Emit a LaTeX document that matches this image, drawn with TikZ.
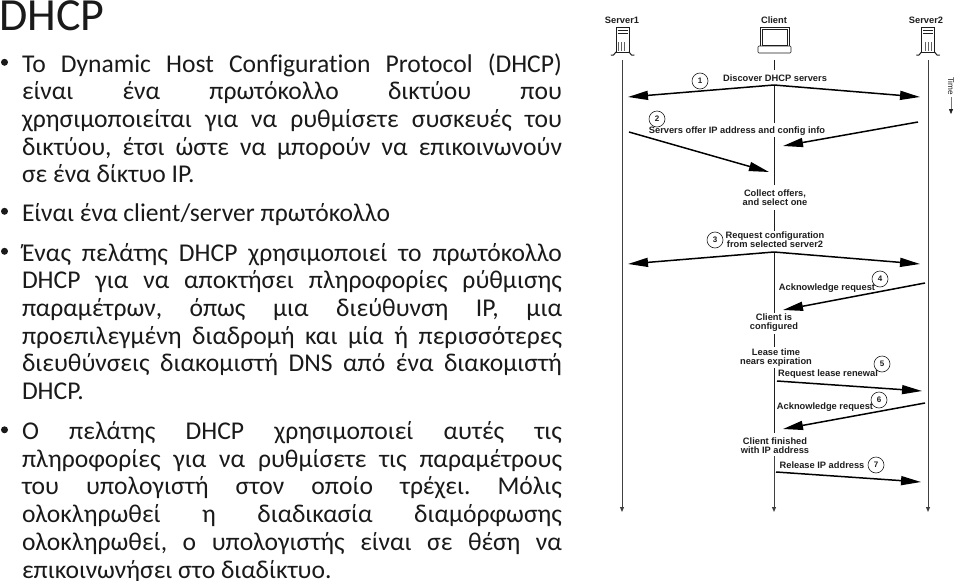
\documentclass[tikz,border=0pt]{standalone}
\usepackage{fontspec}
\setmainfont[Ligatures=NoCommon]{Carlito}
\newfontfamily\labfont{Liberation Sans}
\usetikzlibrary{arrows.meta}
\definecolor{ink}{HTML}{1E1E1E}
\definecolor{bodyink}{HTML}{1A1A1A}
\newcommand{\firstline}{\rule{0pt}{20pt}}
\frenchspacing
\tikzset{
  para/.style={anchor=north west,inner sep=0pt,outer sep=0pt,text width=540pt,align=justify,text=bodyink,
    font=\fontsize{25.6}{27.7}\selectfont},
  bul/.style={circle,fill=bodyink,inner sep=0pt,minimum size=7pt},
  lab/.style={inner sep=0pt,align=center,text=ink,font=\labfont\bfseries\fontsize{9.3}{8.9}\selectfont},
  num/.style={circle,draw=ink,line width=.6pt,fill=white,inner sep=0pt,minimum size=16pt,text=ink,font=\labfont\bfseries\fontsize{8}{8}\selectfont},
  life/.style={draw=ink!85,line width=1pt,-{Triangle[length=5pt,width=4pt]}},
  seg/.style={draw=ink,line width=1pt},
  msg/.style={draw=black,line width=1.5pt,-{Triangle[length=20pt,width=9pt]}},
  srv/.pic={
    \draw[ink,line width=.6pt,fill=white] (-6.5,-14.5) rectangle (6.5,11);
    \draw[ink,line width=.5pt] (-5,-11.5) -- (5,-11.5) (-5,-8.5) -- (5,-8.5);
    \fill[ink!70] (-4.5,0.5) rectangle (4.5,9.5);
    \foreach \i in {-3.5,-2,...,4}{\draw[white,line width=.4pt] (\i,0.5) -- (\i,9.5);}
    \draw[ink,line width=1pt,line cap=round] (-11.5,13.5) -- (-9,13.5) -- (-6.5,10.5) (6.5,10.5) -- (9,13.5) -- (11.5,13.5);
  }
}
\begin{document}
\begin{tikzpicture}[x=1pt,y=-1pt]
\useasboundingbox (0,0) rectangle (959,581);
\clip (0,0) rectangle (959,581);
\fill[white] (0,0) rectangle (959,581);
% text column
\node[anchor=base west,inner sep=0pt,text=bodyink,font=\fontsize{46}{46}\selectfont] (title) at (-1,30) {DHCP};
\node[para] (p1) at (22,52) {\firstline Το Dynamic Host Configuration Protocol (DHCP)\linebreak είναι ένα πρωτόκολλο δικτύου που\linebreak χρησιμοποιείται για να ρυθμίσετε συσκευές του\linebreak δικτύου, έτσι ώστε να μπορούν να επικοινωνούν\linebreak σε ένα δίκτυο IP.};
\node[para] (p2) at (22,201) {\firstline Είναι ένα client/server πρωτόκολλο};
\node[para] (p3) at (22,241) {\firstline Ένας πελάτης DHCP χρησιμοποιεί το πρωτόκολλο\linebreak DHCP για να αποκτήσει πληροφορίες ρύθμισης\linebreak παραμέτρων, όπως μια διεύθυνση IP, μια\linebreak προεπιλεγμένη διαδρομή και μία ή περισσότερες\linebreak διευθύνσεις διακομιστή DNS από ένα διακομιστή\linebreak DHCP.};
\node[para] (p4) at (22,419.5) {\firstline Ο πελάτης DHCP χρησιμοποιεί αυτές τις\linebreak πληροφορίες για να ρυθμίσετε τις παραμέτρους\linebreak του υπολογιστή στον οποίο τρέχει. Μόλις\linebreak ολοκληρωθεί η διαδικασία διαμόρφωσης\linebreak ολοκληρωθεί, ο υπολογιστής είναι σε θέση να\linebreak επικοινωνήσει στο διαδίκτυο.};
\node[bul] (b1) at (4.5,62.3) {};
\node[bul] (b2) at (4.5,211.3) {};
\node[bul] (b3) at (4.5,251.3) {};
\node[bul] (b4) at (4.5,429.8) {};
% heads
\node[lab,anchor=base] (s1) at (622,23) {Server1};
\node[lab,anchor=base] (cl) at (774,23) {Client};
\node[lab,anchor=base] (s2) at (926,23) {Server2};
\pic at (622.5,41.5) {srv};
\pic at (928,41.5) {srv};
\draw[ink,line width=.6pt,fill=white] (760,27.5) rectangle (789,46);
\draw[ink,line width=.5pt] (762,29.5) rectangle (787,45);
\draw[ink,line width=.6pt,fill=white,rounded corners=1pt] (758,46) rectangle (791,53);
% lifeline coordinates
\coordinate (a1) at (622,60); \coordinate (a2) at (622,512);
\coordinate (c2) at (928,60); \coordinate (c3) at (928,512);
\draw[life] (a1) -- (a2);
\draw[life] (c2) -- (c3);
% labels
\node[lab] (l1) at (775,78) {Discover DHCP servers};
\node[lab] (l2) at (737,131) {Servers offer IP address and config info};
\node[lab] (l3) at (775,197.5) {Collect offers,\\and select one};
\node[lab] (l4) at (775,240) {Request configuration\\from selected server2};
\node[lab] (l5) at (827,288) {Acknowledge request};
\node[lab] (l6) at (774,323) {Client is\\configured};
\node[lab] (l7) at (776,357.5) {Lease time\\nears expiration};
\node[lab] (l8) at (828,374) {Request lease renewal};
\node[lab] (l9) at (825,407) {Acknowledge request};
\node[lab] (l10) at (775,446) {Client finished\\with IP address};
\node[lab] (l11) at (822,465) {Release IP address};
% client lifeline
\foreach \n/\p/\q in {k1/60/70,k2/85/123,k3/137/185,k4/210/231,k5/252/313,k6/334/347,k7/368/433}{
  \coordinate (\n a) at (774,\p); \coordinate (\n b) at (774,\q);
  \draw[seg] (\n a) -- (\n b);
}
\coordinate (k8a) at (774,456); \coordinate (k8b) at (774,512);
\draw[life] (k8a) -- (k8b);
% messages
\coordinate (m1) at (774,85); \coordinate (m1l) at (628,97); \coordinate (m1r) at (920,97);
\draw[msg] (m1) -- (m1l);
\draw[msg] (m1) -- (m1r);
\coordinate (m2a) at (918,122); \coordinate (m2b) at (783,146);
\draw[msg] (m2a) -- (m2b);
\coordinate (m2c) at (629,132); \coordinate (m2d) at (769,172);
\draw[msg] (m2c) -- (m2d);
\coordinate (m3) at (774,252); \coordinate (m3l) at (628,264); \coordinate (m3r) at (920,264);
\draw[msg] (m3) -- (m3l);
\draw[msg] (m3) -- (m3r);
\coordinate (m4a) at (925,283); \coordinate (m4b) at (783,310);
\draw[msg] (m4a) -- (m4b);
\coordinate (m5a) at (777,381); \coordinate (m5b) at (922,391);
\draw[msg] (m5a) -- (m5b);
\coordinate (m6a) at (925,403); \coordinate (m6b) at (783,429);
\draw[msg] (m6a) -- (m6b);
\coordinate (m7a) at (776,472); \coordinate (m7b) at (921,482);
\draw[msg] (m7a) -- (m7b);
% numbers
\node[num] (n1) at (700,81) {1};
\node[num] (n2) at (657,119) {2};
\node[num] (n3) at (715,240) {3};
\node[num] (n4) at (880,279) {4};
\node[num] (n5) at (882,364) {5};
\node[num] (n6) at (879,400) {6};
\node[num] (n7) at (876,465) {7};
% time
\node[inner sep=0pt,rotate=-90,text=ink,font=\labfont\fontsize{8.2}{8}\selectfont] (tm) at (951,86) {Time};
\coordinate (t1) at (951,97); \coordinate (t2) at (951,114);
\draw[ink!60,line width=.4pt,-{Triangle[length=5pt,width=4pt,ink]}] (t1) -- (t2);
\end{tikzpicture}
\end{document}
